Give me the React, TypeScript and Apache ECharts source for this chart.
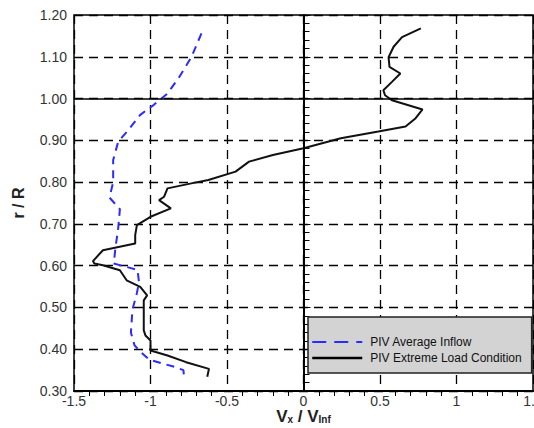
import React, { useEffect, useRef } from "react";
import * as echarts from "echarts";

// PIV Average Inflow (blue dashed): Vx/Vinf and r/R
const avgInflowX = [-0.667, -0.733, -0.811, -0.889, -0.933, -0.978, -1.067, -1.144, -1.211, -1.244, -1.244, -1.268, -1.2, -1.211, -1.23, -1.24, -1.085, -1.075, -1.09, -1.118, -1.128, -1.105, -1.075, -1.008, -0.933, -0.845, -0.785, -0.78];
const avgInflowR = [1.156, 1.099, 1.052, 1.012, 0.999, 0.985, 0.961, 0.925, 0.897, 0.853, 0.8, 0.763, 0.735, 0.69, 0.64, 0.605, 0.59, 0.56, 0.533, 0.495, 0.44, 0.41, 0.397, 0.375, 0.367, 0.358, 0.35, 0.332];

// PIV Extreme Load Condition (black solid)
const extremeX = [0.767, 0.644, 0.589, 0.556, 0.562, 0.633, 0.578, 0.522, 0.533, 0.578, 0.778, 0.733, 0.667, 0.489, 0.244, 0.0, -0.2, -0.356, -0.444, -0.622, -0.733, -0.889, -0.911, -0.944, -0.867, -1.0, -1.089, -1.1, -1.1, -1.311, -1.376, -1.367, -1.311, -1.2, -1.156, -1.067, -1.022, -1.044, -1.044, -1.033, -1.0, -1.0, -0.889, -0.767, -0.618, -0.629];
const extremeR = [1.168, 1.147, 1.124, 1.099, 1.076, 1.06, 1.04, 1.02, 1.008, 0.996, 0.974, 0.953, 0.933, 0.921, 0.905, 0.881, 0.865, 0.849, 0.825, 0.805, 0.797, 0.785, 0.765, 0.757, 0.737, 0.717, 0.697, 0.673, 0.653, 0.637, 0.611, 0.605, 0.601, 0.589, 0.565, 0.549, 0.529, 0.517, 0.445, 0.433, 0.421, 0.397, 0.385, 0.369, 0.353, 0.334];

const seriesNames = ["PIV Average Inflow", "PIV Extreme Load Condition"];
const xRange = [-1.5, 1.5, 0.5];
const yRange = [0.3, 1.2, 0.1];
const refX = 0;
const refY = 1.0;

const FONT = "Liberation Sans";

export default function App() {
  const ref = useRef<HTMLDivElement>(null);
  useEffect(() => {
    if (!ref.current) return;
    document.body.style.margin = "0";
    document.body.style.overflow = "hidden";
    const chart = echarts.init(ref.current, undefined, { renderer: "svg" });
    const dash = { type: [9, 6] as any, color: "#000", width: 1.3 };
    chart.setOption({
      animation: false,
      textStyle: { fontFamily: FONT },
      grid: {
        left: 74,
        right: 1,
        top: 15,
        bottom: 37,
        show: true,
        borderColor: "#000",
        borderWidth: 1.5,
        outerBoundsMode: "none",
        containLabel: false,
      },
      legend: {
        left: 308,
        top: 317,
        orient: "vertical",
        backgroundColor: "#d3d3d3",
        borderColor: "#222",
        borderWidth: 1.5,
        padding: [19, 10, 9, 3],
        itemGap: 4,
        itemWidth: 50,
        itemHeight: 14,
        itemStyle: { opacity: 0 },
        textStyle: { fontFamily: FONT, fontSize: 12, color: "#111", padding: [0, 0, 0, 3] },
        data: [
          { name: seriesNames[0], lineStyle: { color: "#2b2bff", type: [14, 8], width: 2.2 } },
          { name: seriesNames[1], lineStyle: { color: "#000", type: "solid", width: 2.5 } },
        ],
      },
      xAxis: {
        type: "value",
        min: xRange[0],
        max: xRange[1],
        interval: xRange[2],
        name: "{v|V}{s|x}{v| / V}{s|Inf}",
        nameLocation: "middle",
        nameGap: 17,
        nameMoveOverlap: false,
        nameTextStyle: {
          rich: {
            v: { fontFamily: FONT, fontSize: 17, lineHeight: 17, fontWeight: "bold", color: "#222" },
            s: { fontFamily: FONT, fontSize: 10, lineHeight: 10, fontWeight: "bold", color: "#222", padding: [6, 0, 0, 0] },
          },
        },
        axisLine: { lineStyle: { color: "#000", width: 2 } },
        axisTick: { show: false },
        minorTick: { show: true, splitNumber: 5, length: 5, lineStyle: { color: "#000", width: 1 } },
        axisLabel: {
          fontFamily: FONT,
          fontSize: 14,
          color: "#333",
          margin: 3,
          formatter: (v: number) => String(v),
        },
        splitLine: { show: true, lineStyle: dash },
      },
      yAxis: {
        type: "value",
        min: yRange[0],
        max: yRange[1],
        interval: yRange[2],
        name: "r / R",
        nameLocation: "middle",
        nameGap: 48,
        nameMoveOverlap: false,
        nameRotate: 90,
        nameTextStyle: { fontFamily: FONT, fontSize: 16, fontWeight: "bold", color: "#222" },
        axisLine: { lineStyle: { color: "#000", width: 2 } },
        axisTick: { show: true, inside: true, length: 7, lineStyle: { color: "#000", width: 1 } },
        minorTick: { show: true, splitNumber: 5, length: 6, lineStyle: { color: "#000", width: 1 } },
        axisLabel: {
          fontFamily: FONT,
          fontSize: 14,
          color: "#333",
          margin: 7,
          formatter: (v: number) => v.toFixed(2),
        },
        splitLine: { show: true, lineStyle: dash },
      },
      series: [
        {
          name: seriesNames[0],
          type: "line",
          symbol: "none",
          data: avgInflowX.map((x, i) => [x, avgInflowR[i]]),
          lineStyle: { color: "#2b2bff", type: [8, 6], width: 2 },
          itemStyle: { color: "#2b2bff" },
          z: 3,
        },
        {
          name: seriesNames[1],
          type: "line",
          symbol: "none",
          data: extremeX.map((x, i) => [x, extremeR[i]]),
          lineStyle: { color: "#111", width: 2 },
          itemStyle: { color: "#111" },
          z: 4,
          markLine: {
            silent: true,
            symbol: "none",
            label: { show: false },
            lineStyle: { color: "#000", type: "solid", width: 1.5 },
            data: [{ xAxis: refX }, { yAxis: refY }],
          },
        },
      ],
    });
    return () => chart.dispose();
  }, []);
  return (
    <div
      ref={ref}
      style={{ position: "absolute", left: 0, top: 0, width: 534, height: 428, background: "#fff" }}
    />
  );
}
